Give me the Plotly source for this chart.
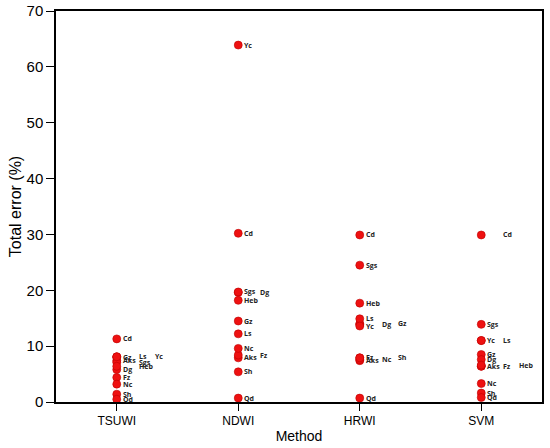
import plotly.graph_objects as go

# methods on the x axis and the sites that were tested
methods = ["TSUWI", "NDWI", "HRWI", "SVM"]
sites = ["Cd", "Gz", "Aks", "Dg", "Fz", "Nc", "Sh", "Qd", "Ls", "Sgs", "Heb", "Yc"]

# total error (%) per site, same order as sites
tsuwi = [11.3, 8.0, 7.4, 5.8, 4.4, 3.2, 1.4, 0.5, 8.1, 7.1, 6.4, 8.1]
ndwi = [30.2, 14.5, 7.9, 19.6, 8.4, 9.6, 5.4, 0.7, 12.2, 19.7, 18.2, 63.9]
hrwi = [29.9, 14.0, 7.4, 13.9, 7.9, 7.6, 7.9, 0.7, 14.9, 24.5, 17.7, 13.6]
svm = [29.9, 8.5, 6.4, 7.6, 6.4, 3.3, 1.6, 0.8, 11.0, 13.9, 6.6, 11.0]

errors = {"TSUWI": tsuwi, "NDWI": ndwi, "HRWI": hrwi, "SVM": svm}

# labels that were pushed to the right so they don't overlap
label_slot = {
    ("TSUWI", "Ls"): 1, ("TSUWI", "Sgs"): 1, ("TSUWI", "Heb"): 1, ("TSUWI", "Yc"): 2,
    ("NDWI", "Dg"): 1, ("NDWI", "Fz"): 1,
    ("HRWI", "Dg"): 1, ("HRWI", "Gz"): 2, ("HRWI", "Nc"): 1, ("HRWI", "Sh"): 2,
    ("SVM", "Cd"): 1, ("SVM", "Ls"): 1, ("SVM", "Fz"): 1, ("SVM", "Heb"): 2,
}

fig = go.Figure()
annotations = []
for m in methods:
    fig.add_trace(go.Scatter(
        x=[m] * len(sites),
        y=errors[m],
        mode="markers",
        marker=dict(color="#ee1111", size=8, line=dict(color="#c00000", width=0.6)),
        showlegend=False,
        hoverinfo="skip",
    ))
    for s, v in zip(sites, errors[m]):
        annotations.append(dict(
            x=m, y=v, xref="x", yref="y",
            text=s, showarrow=False,
            xanchor="left", yanchor="middle",
            xshift=4 + 16 * label_slot.get((m, s), 0),
            font=dict(family="Open Sans", size=7, color="#222222", weight="bold"),
        ))

fig.update_layout(
    width=550,
    height=448,
    margin=dict(l=56, r=8, t=11, b=46),
    plot_bgcolor="white",
    paper_bgcolor="white",
    annotations=annotations,
    font=dict(family="Liberation Sans", color="black"),
)

fig.update_xaxes(
    type="category",
    categoryorder="array",
    categoryarray=methods,
    range=[-0.5, 3.5],
    automargin=False,
    showgrid=False,
    showline=True, linecolor="black", linewidth=1.5, mirror=True,
    ticks="outside", ticklen=7, tickwidth=1.2, tickcolor="black",
    tickfont=dict(size=12),
    title=dict(text="Method", font=dict(size=14), standoff=4),
)

fig.update_yaxes(
    range=[0, 70],
    dtick=10,
    automargin=False,
    showgrid=False,
    zeroline=False,
    showline=True, linecolor="black", linewidth=1.5, mirror=True,
    ticks="outside", ticklen=8, tickwidth=1.2, tickcolor="black",
    tickfont=dict(size=15),
    title=dict(text="Total error (%)", font=dict(size=16), standoff=1),
)

# drop the default 8px body margin so the figure fills the window
fig.write_html(
    "out.html",
    config={"displayModeBar": False},
    post_script="document.body.style.margin = '0';",
)
